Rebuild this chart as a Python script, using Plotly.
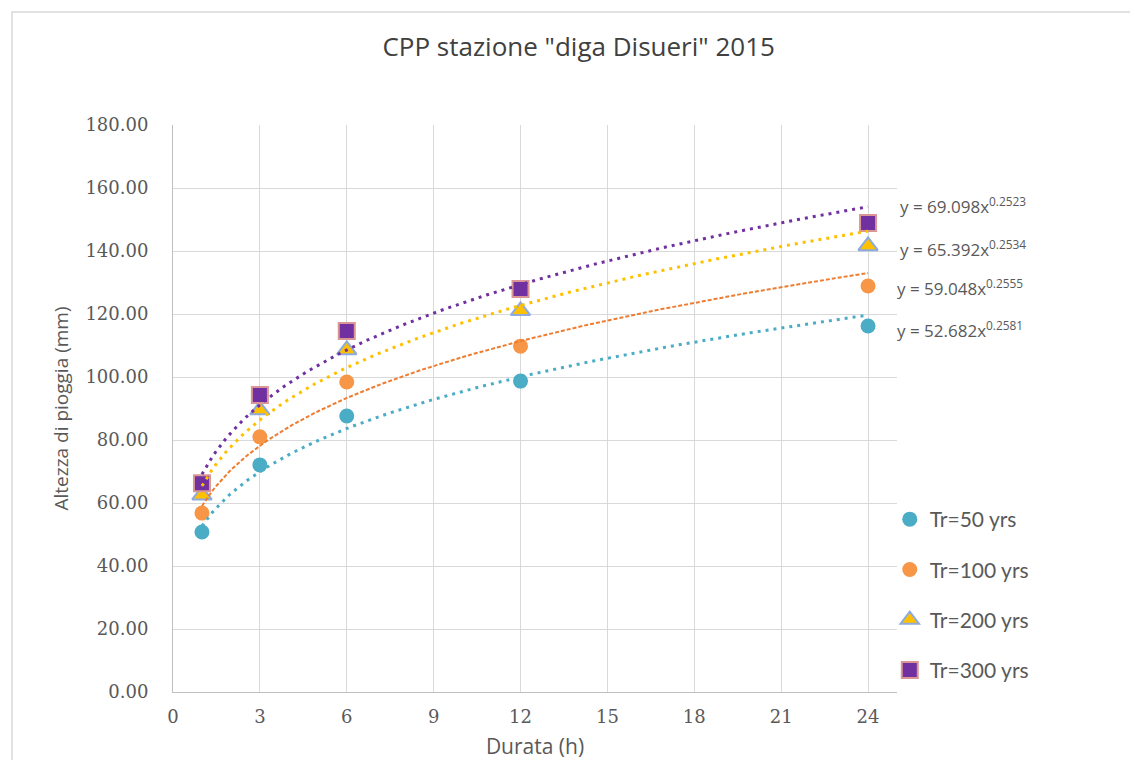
import numpy as np
import plotly.graph_objects as go

# ---- data ----
durations = [1, 3, 6, 12, 24]
series_names = ["Tr=50 yrs", "Tr=100 yrs", "Tr=200 yrs", "Tr=300 yrs"]
tr50 = [50.8, 72.1, 87.6, 98.7, 116.2]
tr100 = [56.8, 81.0, 98.4, 109.8, 128.9]
tr200 = [62.5, 89.5, 108.6, 121.0, 141.6]
tr300 = [66.3, 94.3, 114.6, 127.9, 148.9]
# power trendline coefficients y = a * x^b (as shown on chart)
coef_a = [52.682, 59.048, 65.392, 69.098]
coef_b = [0.2581, 0.2555, 0.2534, 0.2523]
x_ticks = [0, 3, 6, 9, 12, 15, 18, 21, 24]
y_ticks = [0, 20, 40, 60, 80, 100, 120, 140, 160, 180]

values = [tr50, tr100, tr200, tr300]
fill_colors = ["#4BACC6", "#F79646", "#FFC000", "#7030A0"]
line_colors = ["#4BACC6", "#ED7D31", "#FFC000", "#7030A0"]
symbols = ["circle", "circle", "triangle-up", "square"]
sizes = [15, 15, 17, 16]
border_colors = ["#4BACC6", "#F79646", "#8FAADC", "#D99694"]
border_widths = [0, 0, 2, 2]
dashes = ["3px,5px", "4px,2px", "3px,5px", "3px,5px"]
line_widths = [3, 2, 3, 3]

grey = "#595959"
fig = go.Figure()

for i, name in enumerate(series_names):
    fig.add_trace(go.Scatter(
        x=durations, y=values[i], mode="markers", name=name,
        legendgroup=name,
        marker=dict(symbol=symbols[i], size=sizes[i], color=fill_colors[i],
                    line=dict(color=border_colors[i], width=border_widths[i])),
    ))

xs = np.linspace(1, 24, 200)
for i in range(4):
    fig.add_trace(go.Scatter(
        x=xs, y=coef_a[i] * xs ** coef_b[i], mode="lines", showlegend=False,
        hoverinfo="skip",
        line=dict(color=line_colors[i], width=line_widths[i], dash=dashes[i]),
    ))

# equation labels
eq_y = [115.0, 128.3, 140.9, 154.6]
eq_x = [0.997, 0.997, 1.002, 1.002]
for i in range(4):
    fig.add_annotation(
        x=eq_x[i], xref="paper", y=eq_y[i], yref="y", xanchor="left", yanchor="middle",
        text=f"y = {coef_a[i]:.3f}x<sup>{coef_b[i]:.4f}</sup>", showarrow=False,
        font=dict(family="Open Sans, sans-serif", size=17, color=grey),
    )

# chart frame
fig.add_shape(type="rect", xref="paper", yref="paper",
              x0=(12 - 173) / 724, x1=(1150 - 173) / 724,
              y0=-0.3, y1=(692 - 12) / 567,
              line=dict(color="#D9D9D9", width=1.5), fillcolor="rgba(0,0,0,0)", layer="below")

fig.update_layout(
    width=1130, height=752,
    margin=dict(l=165, r=241, t=117, b=68),
    paper_bgcolor="white", plot_bgcolor="white",
    title=dict(text='CPP stazione "diga Disueri" 2015', x=0.505, xanchor="center",
               y=1 - 39 / 752, yanchor="middle",
               font=dict(family="Open Sans, sans-serif", size=26, color="#404040")),
    xaxis=dict(range=[0, 25], tickvals=x_ticks, ticktext=[str(v) for v in x_ticks],
               showgrid=True, gridcolor="#D9D9D9", gridwidth=1,
               showline=True, linecolor="#BFBFBF", linewidth=1, zeroline=False,
               ticks="", ticklabelstandoff=8, automargin=False,
               tickfont=dict(family="DejaVu Serif, serif", size=18, color=grey),
               title=dict(text="Durata (h)", standoff=14,
                          font=dict(family="Open Sans, sans-serif", size=21, color=grey))),
    yaxis=dict(range=[0, 180], tickvals=y_ticks, tickformat=".2f",
               showgrid=True, gridcolor="#D9D9D9", gridwidth=1,
               showline=True, linecolor="#BFBFBF", linewidth=1, zeroline=False,
               ticks="", ticklabelstandoff=20, automargin=False,
               tickfont=dict(family="DejaVu Serif, serif", size=18, color=grey),
               title=dict(text="Altezza di pioggia (mm)", standoff=11,
                          font=dict(family="Open Sans, sans-serif", size=19, color=grey))),
    legend=dict(x=0.99, xanchor="left", y=(692 - 499) / 567, yanchor="top",
                tracegroupgap=20, itemwidth=30,
                font=dict(family="Lato, sans-serif", size=21, color=grey),
                bgcolor="rgba(0,0,0,0)"),
    showlegend=True,
)

fig.write_html("out.html")
